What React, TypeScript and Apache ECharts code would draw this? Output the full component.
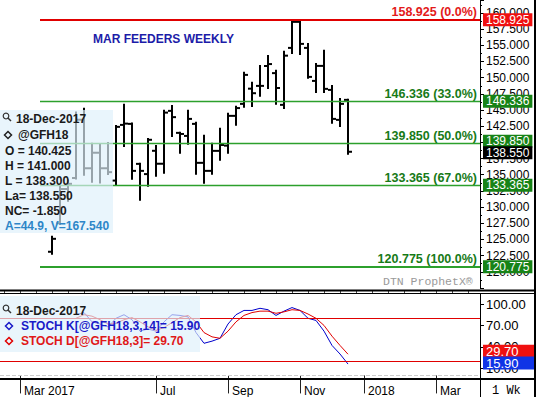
import React, { useEffect, useRef } from "react";
import * as echarts from "echarts";

const FONT = '"Liberation Sans", Arial, sans-serif';

// weekly categories (Mondays)
const categories = [
  "2017-02-20","2017-02-27","2017-03-06","2017-03-13","2017-03-20","2017-03-27","2017-04-03","2017-04-10","2017-04-17","2017-04-24",
  "2017-05-01","2017-05-08","2017-05-15","2017-05-22","2017-05-29","2017-06-05","2017-06-12","2017-06-19","2017-06-26","2017-07-03",
  "2017-07-10","2017-07-17","2017-07-24","2017-07-31","2017-08-07","2017-08-14","2017-08-21","2017-08-28","2017-09-04","2017-09-11",
  "2017-09-18","2017-09-25","2017-10-02","2017-10-09","2017-10-16","2017-10-23","2017-10-30","2017-11-06","2017-11-13","2017-11-20",
  "2017-11-27","2017-12-04","2017-12-11","2017-12-18","2017-12-25","2018-01-01","2018-01-08","2018-01-15","2018-01-22","2018-01-29",
  "2018-02-05","2018-02-12","2018-02-19","2018-02-26","2018-03-05","2018-03-12","2018-03-19","2018-03-26","2018-04-02","2018-04-09",
];

const xLabelDates = ["2017-03-06", "2017-07-03", "2017-09-04", "2017-11-06", "2018-01-01", "2018-03-05"];
const xLabelTexts = ["Mar 2017", "Jul", "Sep", "Nov", "2018", "Mar"];

// OHLC weekly bars starting at category index 6 (2017-04-03)
const firstBar = 6;
const opens = [123.1, 127.5, 132.8, 134.5, 143.5, 136.0, 138.4, 136.0, 134.1, 142.7, 142.86, 136.68, 135.1, 138.7, 136.7, 144.87, 141.47, 141.0, 142.86, 136.84, 135.6, 138.69, 139.5, 144.1, 145.95, 148.3, 148.73, 151.8, 150.7, 145.8, 154.6, 158.62, 154.6, 149.5, 151.82, 148.11, 143.48, 146.57];
const highs = [125.4, 133.3, 134.1, 144.6, 145.2, 139.8, 139.6, 139.9, 142.55, 145.8, 142.9, 136.7, 140.54, 139.46, 144.87, 145.64, 141.47, 144.87, 143.02, 141.01, 139.77, 142.09, 144.41, 145.49, 150.74, 149.2, 151.82, 153.36, 151.05, 154.0, 158.9, 158.925, 155.22, 152.13, 154.14, 148.73, 146.72, 146.57];
const lows = [122.8, 127.4, 131.0, 134.4, 135.0, 133.9, 133.8, 135.1, 133.44, 139.46, 134.37, 131.12, 133.28, 134.83, 135.29, 141.0, 138.38, 139.77, 135.14, 133.75, 135.14, 137.3, 138.38, 142.71, 145.49, 145.64, 147.19, 148.42, 145.95, 145.33, 153.83, 153.67, 149.97, 147.8, 147.8, 143.02, 142.55, 138.23];
const closes = [125.1, 132.8, 133.6, 143.5, 136.0, 138.4, 136.0, 135.4, 142.4, 142.9, 135.6, 135.6, 140.4, 136.7, 144.6, 143.9, 141.3, 143.63, 136.84, 135.6, 138.69, 139.6, 144.1, 145.3, 150.43, 147.6, 148.73, 152.1, 148.4, 153.4, 158.62, 155.22, 150.12, 151.82, 148.27, 143.63, 145.95, 138.55];

// Stochastics starting at category index 9
const firstStoch = 9;
const stochK = [85, 88, 75, 72, 68, 80, 85, 78, 62, 65, 62, 75, 85, 84, 82, 60, 45, 48, 52, 72, 85, 91, 91, 94, 92, 84, 90, 95, 91, 80, 77, 62, 42, 30, 15.9];
const stochD = [80, 85, 83, 78, 72, 73, 78, 81, 75, 68, 63, 67, 74, 81, 84, 75, 60, 54, 52, 62, 75, 84, 88, 90, 90, 87, 89, 92, 91, 86, 80, 70, 55, 42, 29.7];

// Fibonacci retracement levels
const fibLevels = [158.925, 146.336, 139.85, 133.365, 120.775];
const fibPercents = ["0.0%", "33.0%", "50.0%", "67.0%", "100.0%"];
const lastClose = 138.55;

// info box values
const infoDate = "18-Dec-2017";
const infoSymbol = "@GFH18";
const infoLines = ["O = 140.425", "H = 141.000", "L = 138.300", "La= 138.550", "NC= -1.850"];
const infoAV = "A=44.9, V=167.540";

const RED = "#e00000";
const GREEN_LINE = "#2ca02c";
const GREEN_TEXT = "#177a17";
const GREEN_BOX = "#178317";
const BLUE = "#1a1ac8";
const HIDDEN_LINE = { color: "rgba(0,0,0,0)", width: 0, opacity: 1 };

function magnifier(cx: number, cy: number) {
  return [
    { type: "circle", shape: { cx, cy, r: 2.8 }, style: { fill: "none", stroke: "#333", lineWidth: 1.2 }, z: 101 },
    { type: "line", shape: { x1: cx + 2, y1: cy + 2, x2: cx + 5, y2: cy + 5 }, style: { stroke: "#333", lineWidth: 1.5 }, z: 101 },
  ];
}
function diamond(cx: number, cy: number, color: string) {
  return {
    type: "polygon",
    shape: { points: [[cx, cy - 3.5], [cx + 3.5, cy], [cx, cy + 3.5], [cx - 3.5, cy]] },
    style: { fill: "none", stroke: color, lineWidth: 1.5 },
    z: 101,
  };
}
function txt(x: number, y: number, text: string, fill: string, font = `bold 12px ${FONT}`) {
  return { type: "text", x, y, style: { text, fill, font, verticalAlign: "middle" }, z: 101 };
}
function boxLabel(text: string, bg: string, fontSize: number, padRight: number, offsetY: number) {
  return {
    show: true,
    position: "end",
    formatter: text,
    color: "#fff",
    opacity: 1,
    backgroundColor: bg,
    padding: [1, padRight, 0, 3],
    fontSize,
    lineHeight: 12,
    fontFamily: FONT,
    distance: 3,
    offset: [0, offsetY],
  };
}

export default function App() {
  const ref = useRef<HTMLDivElement>(null);
  useEffect(() => {
    if (!ref.current) return;
    const chart = echarts.init(ref.current, null, { renderer: "svg" });

    const ohlcData = opens.map((o, j) => [firstBar + j, o, highs[j], lows[j], closes[j]]);
    const kData: (number | null)[] = categories.map(() => null);
    const dData: (number | null)[] = categories.map(() => null);
    stochK.forEach((v, j) => (kData[firstStoch + j] = v));
    stochD.forEach((v, j) => (dData[firstStoch + j] = v));

    const fibMarks: any[] = [];
    fibLevels.forEach((v, j) => {
      const isRed = j === 0;
      const color = isRed ? RED : GREEN_LINE;
      fibMarks.push({
        yAxis: v,
        lineStyle: { color, width: isRed || j === fibLevels.length - 1 ? 2 : 1.4, type: "solid", opacity: 1 },
        label: {
          show: true,
          position: "insideEndTop",
          formatter: `${v.toFixed(3)} (${fibPercents[j]})`,
          color: isRed ? "#e31a1a" : GREEN_TEXT,
          fontWeight: "bold",
          fontSize: 12.5,
          fontFamily: FONT,
          distance: [3, 1],
        },
      });
    });
    const boxMarks: any[] = fibLevels.map((v, j) => ({
      yAxis: v,
      lineStyle: HIDDEN_LINE,
      label: boxLabel(v.toFixed(3), j === 0 ? "#f01010" : GREEN_BOX, 12, 3, v === 139.85 ? -2 : 0),
    }));
    boxMarks.push({
      yAxis: lastClose,
      lineStyle: HIDDEN_LINE,
      label: boxLabel(lastClose.toFixed(3), "#000", 12, 3, 1),
    });

    const lastK = stochK[stochK.length - 1];
    const lastD = stochD[stochD.length - 1];

    const option: any = {
      animation: false,
      backgroundColor: "#fff",
      title: {
        text: "MAR FEEDERS WEEKLY",
        left: 93,
        top: 33,
        padding: 0,
        textStyle: { color: "#1c1ca8", fontWeight: "bold", fontSize: 12, fontFamily: FONT },
      },
      grid: [
        { left: 40, top: 0, width: 440, height: 288 },
        { left: 0, top: 294, width: 480, height: 85 },
      ],
      xAxis: [
        { gridIndex: 0, type: "category", data: categories, min: 5, show: false, boundaryGap: true },
        {
          gridIndex: 1,
          type: "category",
          data: categories,
          boundaryGap: true,
          axisLine: { show: false },
          axisTick: {
            show: true,
            alignWithLabel: true,
            interval: (_i: number, v: string) => xLabelDates.includes(v),
            length: 18,
            lineStyle: { color: "#222", width: 1 },
          },
          axisLabel: {
            interval: (_i: number, v: string) => xLabelDates.includes(v),
            formatter: (v: string) => {
              const k = xLabelDates.indexOf(v);
              return k >= 0 ? xLabelTexts[k] : "";
            },
            align: "left",
            padding: [0, 0, 0, 4],
            margin: 6,
            color: "#000",
            fontSize: 12,
            fontFamily: FONT,
          },
          splitLine: { show: false },
        },
        {
          gridIndex: 1,
          type: "category",
          data: categories,
          boundaryGap: true,
          axisLine: { show: false },
          axisTick: { show: true, alignWithLabel: true, interval: 1, length: 3, lineStyle: { color: "#444" } },
          axisLabel: { show: false },
        },
      ],
      yAxis: [
        {
          gridIndex: 0,
          type: "value",
          position: "right",
          min: 117.5,
          max: 162,
          interval: 2.5,
          axisLine: { show: true, lineStyle: { color: "#000", width: 1 } },
          axisTick: { show: true, length: 4, lineStyle: { color: "#000" } },
          minorTick: { show: true, splitNumber: 2, length: 2, lineStyle: { color: "#000" } },
          splitLine: { show: false },
          axisLabel: {
            formatter: (v: number) => v.toFixed(3),
            showMinLabel: false,
            showMaxLabel: false,
            margin: 6,
            color: "#000",
            fontSize: 12,
            fontFamily: FONT,
          },
        },
        {
          gridIndex: 1,
          type: "value",
          position: "right",
          min: -5,
          max: 114,
          axisLine: { show: true, lineStyle: { color: "#000", width: 1 } },
          axisTick: { show: true, length: 4, customValues: [10, 40, 70, 100], lineStyle: { color: "#000" } },
          splitLine: { show: false },
          axisLabel: {
            customValues: [10, 40, 70, 100],
            formatter: (v: number) => v.toFixed(2),
            margin: 6,
            color: "#000",
            fontSize: 13,
            fontFamily: FONT,
          },
        },
      ],
      series: [
        {
          type: "custom",
          name: "MAR FEEDERS",
          xAxisIndex: 0,
          yAxisIndex: 0,
          data: ohlcData,
          encode: { x: 0, y: [1, 2, 3, 4] },
          z: 3,
          renderItem: (_p: any, api: any) => {
            const idx = api.value(0);
            const pH = api.coord([idx, api.value(2)]);
            const pL = api.coord([idx, api.value(3)]);
            const pO = api.coord([idx, api.value(1)]);
            const pC = api.coord([idx, api.value(4)]);
            const x = Math.round(pH[0]);
            const st = { stroke: "#000", lineWidth: 2 };
            return {
              type: "group",
              children: [
                { type: "line", shape: { x1: x, y1: pH[1] - 1, x2: x, y2: pL[1] + 1 }, style: st },
                { type: "line", shape: { x1: x - 4, y1: pO[1], x2: x, y2: pO[1] }, style: st },
                { type: "line", shape: { x1: x, y1: pC[1], x2: x + 4, y2: pC[1] }, style: st },
              ],
            };
          },
          markLine: { silent: true, symbol: ["none", "none"], animation: false, data: fibMarks },
        },
        {
          type: "line",
          name: "levels",
          xAxisIndex: 0,
          yAxisIndex: 0,
          data: [],
          z: 6,
          markLine: { silent: true, symbol: ["none", "none"], animation: false, data: boxMarks },
        },
        {
          type: "line",
          name: "STOCH K",
          xAxisIndex: 1,
          yAxisIndex: 1,
          data: kData,
          showSymbol: false,
          symbol: "none",
          lineStyle: { color: "#0000cc", width: 1 },
          itemStyle: { color: "#0000cc" },
          z: 4,
          markLine: {
            silent: true,
            symbol: ["none", "none"],
            animation: false,
            data: [
              { yAxis: 80, lineStyle: { color: RED, width: 1, type: "solid" }, label: { show: false } },
              { yAxis: 20, lineStyle: { color: RED, width: 1, type: "solid" }, label: { show: false } },
              { yAxis: 0, lineStyle: { color: "#cccccc", width: 1, type: "dashed" }, label: { show: false } },
            ],
          },
        },
        {
          type: "line",
          name: "STOCH D",
          xAxisIndex: 1,
          yAxisIndex: 1,
          data: dData,
          showSymbol: false,
          symbol: "none",
          lineStyle: { color: RED, width: 1 },
          itemStyle: { color: RED },
          z: 4,
        },
        {
          type: "line",
          name: "stochLevels",
          xAxisIndex: 1,
          yAxisIndex: 1,
          data: [],
          z: 6,
          markLine: {
            silent: true,
            symbol: ["none", "none"],
            animation: false,
            data: [
              { yAxis: lastD, lineStyle: HIDDEN_LINE, label: boxLabel(lastD.toFixed(2), "#f01010", 13, 18, -3) },
              { yAxis: lastK, lineStyle: HIDDEN_LINE, label: boxLabel(lastK.toFixed(2), "#1034e6", 13, 18, -1) },
            ],
          },
        },
      ],
      graphic: {
        elements: [
          // main info box
          { type: "rect", shape: { x: 0, y: 110, width: 113, height: 123 }, style: { fill: "rgba(222,240,250,0.68)" }, z: 100 },
          ...magnifier(6, 116),
          txt(16, 119, infoDate, "#1a1a1a"),
          diamond(8, 135, "#222"),
          txt(18, 135, infoSymbol, "#1a1a1a"),
          ...infoLines.map((s, j) => txt(5, 151 + j * 15, s, "#1a1a1a")),
          txt(5, 226, infoAV, "#2e86c8"),
          // stoch legend box
          { type: "rect", shape: { x: 0, y: 296, width: 200, height: 56 }, style: { fill: "rgba(222,240,250,0.68)" }, z: 100 },
          ...magnifier(6, 308),
          txt(16, 311, infoDate, "#1a1a1a"),
          diamond(9, 326, BLUE),
          txt(21, 326, `STOCH K[@GFH18,3,14]= ${lastK.toFixed(2)}`, BLUE),
          diamond(9, 341, RED),
          txt(21, 341, `STOCH D[@GFH18,3]= ${lastD.toFixed(2)}`, "#e01818"),
          // watermark
          { type: "text", x: 383, y: 281, style: { text: "DTN ProphetX\u00AE", fill: "#9a9a9a", font: '11.5px "Liberation Mono", monospace', verticalAlign: "middle" }, z: 50 },
          // panel separators & borders
          { type: "line", shape: { x1: 0, y1: 290.5, x2: 536, y2: 290.5 }, style: { stroke: "#000", lineWidth: 2 }, z: 102 },
          { type: "line", shape: { x1: 0, y1: 293.5, x2: 536, y2: 293.5 }, style: { stroke: "#000", lineWidth: 1 }, z: 102 },
          { type: "line", shape: { x1: 0, y1: 379, x2: 536, y2: 379 }, style: { stroke: "#000", lineWidth: 2 }, z: 102 },
          { type: "line", shape: { x1: 480.5, y1: 379, x2: 480.5, y2: 397 }, style: { stroke: "#000", lineWidth: 1 }, z: 102 },
          { type: "line", shape: { x1: 535, y1: 0, x2: 535, y2: 397 }, style: { stroke: "#000", lineWidth: 2 }, z: 102 },
          { type: "text", x: 492, y: 391, style: { text: "1 Wk", fill: "#000", font: '12px "Liberation Mono", monospace', verticalAlign: "middle" }, z: 102 },
        ],
      },
    };

    chart.setOption(option);
    return () => chart.dispose();
  }, []);

  return <div ref={ref} style={{ position: "absolute", left: 0, top: 0, width: 536, height: 397 }} />;
}
